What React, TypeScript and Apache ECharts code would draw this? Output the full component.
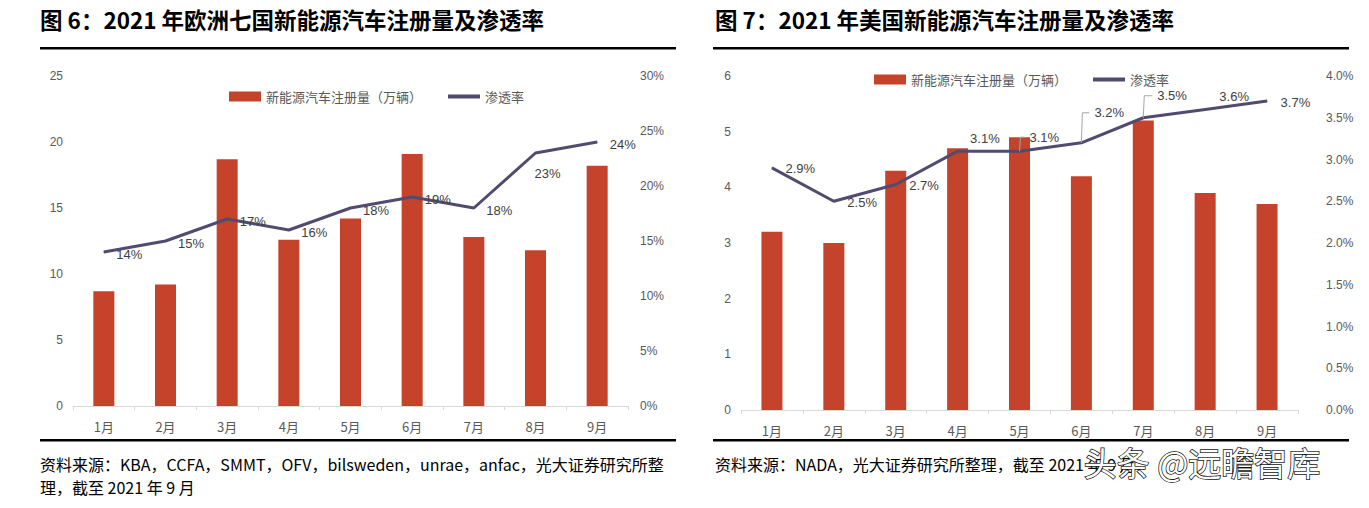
import React, { useEffect, useRef } from "react";
import * as echarts from "echarts";

const categories = ["1月", "2月", "3月", "4月", "5月", "6月", "7月", "8月", "9月"];
const euRegistrations = [8.7, 9.2, 18.7, 12.6, 14.2, 19.1, 12.8, 11.8, 18.2];
const euPenetration = [14, 15, 17, 16, 18, 19, 18, 23, 24];
const usRegistrations = [3.2, 3.0, 4.3, 4.7, 4.9, 4.2, 5.2, 3.9, 3.7];
const usPenetration = [2.9, 2.5, 2.7, 3.1, 3.1, 3.2, 3.5, 3.6, 3.7];

const barName = "新能源汽车注册量（万辆）";
const lineName = "渗透率";
const euTitle = "图 6：2021 年欧洲七国新能源汽车注册量及渗透率";
const usTitle = "图 7：2021 年美国新能源汽车注册量及渗透率";
const euSource1 = "资料来源：KBA，CCFA，SMMT，OFV，bilsweden，unrae，anfac，光大证券研究所整";
const euSource2 = "理，截至 2021 年 9 月";
const usSource = "资料来源：NADA，光大证券研究所整理，截至 2021 年 9 月";
const watermark = "头条 @远瞻智库";

const BAR = "#C5432A";
const LINE = "#514B6F";
const AXIS_TXT = "#595959";
const LABEL_TXT = "#404040";
const FONT = '"Liberation Sans", "Noto Sans CJK SC", sans-serif';
const CJK = '"Noto Sans CJK SC", sans-serif';

// label placement per point (style only)
const euLabelCfg = (i: number) =>
  i === 7
    ? { position: "bottom", offset: [12, 8] }
    : { position: "right", distance: 12, offset: [0, 2] };

const usLabelCfg = (i: number) => {
  if (i === 3) return { position: "right", distance: 12, offset: [0, -13] };
  if (i === 7) return { position: "top", distance: 6, offset: [29, 0] };
  return { position: "right", distance: 13, offset: [0, 1] };
};
// leader-line geometry for some points: [rise, run]
const usLeader: Record<number, [number, number]> = {
  4: [14, 5],
  5: [30, 8],
  6: [22, 9],
};

export default function App() {
  const ref = useRef<HTMLDivElement>(null);
  useEffect(() => {
    if (!ref.current) return;
    const chart = echarts.init(ref.current, null, { renderer: "svg" });

    const xAxisBase = (gridIndex: number) => ({
      type: "category",
      gridIndex,
      data: categories,
      boundaryGap: true,
      axisLine: { lineStyle: { color: "#D9D9D9", width: 1 } },
      axisTick: { show: true, length: 4, lineStyle: { color: "#D9D9D9" } },
      axisLabel: { color: AXIS_TXT, fontSize: 13, fontFamily: CJK, margin: 14 },
    });
    const yBase = {
      axisLine: { show: false },
      axisTick: { show: false },
      splitLine: { show: false },
    };

    const legendBase = {
      itemGap: 26,
      textStyle: { color: AXIS_TXT, fontSize: 13, fontFamily: CJK },
      itemWidth: 32,
      itemHeight: 10,
    };

    chart.setOption({
      animation: false,
      backgroundColor: "#fff",
      grid: [
        { left: 73, width: 555, top: 76, height: 330 },
        { left: 741, width: 557, top: 76, height: 334 },
      ],
      legend: [
        {
          ...legendBase,
          left: 224,
          top: 85,
          data: [
            { name: barName, icon: "rect" },
            { name: lineName, icon: "path://M0 0H32V4H0Z" },
          ],
        },
        {
          ...legendBase,
          left: 869,
          top: 68,
          data: [
            { name: barName + " ", icon: "rect" },
            { name: lineName + " ", icon: "path://M0 0H32V4H0Z" },
          ],
          formatter: (n: string) => n.trim(),
        },
      ],
      xAxis: [xAxisBase(0), xAxisBase(1)],
      yAxis: [
        {
          ...yBase,
          type: "value",
          gridIndex: 0,
          min: 0,
          max: 25,
          interval: 5,
          axisLabel: { color: AXIS_TXT, fontSize: 12, fontFamily: FONT, margin: 10 },
        },
        {
          ...yBase,
          type: "value",
          gridIndex: 0,
          position: "right",
          min: 0,
          max: 30,
          interval: 5,
          axisLabel: {
            color: AXIS_TXT,
            fontSize: 12,
            fontFamily: FONT,
            margin: 12,
            formatter: (v: number) => v + "%",
          },
        },
        {
          ...yBase,
          type: "value",
          gridIndex: 1,
          min: 0,
          max: 6,
          interval: 1,
          axisLabel: { color: AXIS_TXT, fontSize: 12, fontFamily: FONT, margin: 10 },
        },
        {
          ...yBase,
          type: "value",
          gridIndex: 1,
          position: "right",
          min: 0,
          max: 4,
          interval: 0.5,
          axisLabel: {
            color: AXIS_TXT,
            fontSize: 12,
            fontFamily: FONT,
            margin: 28,
            formatter: (v: number) => v.toFixed(1) + "%",
          },
        },
      ],
      series: [
        {
          name: barName,
          type: "bar",
          xAxisIndex: 0,
          yAxisIndex: 0,
          data: euRegistrations,
          barWidth: 21,
          itemStyle: { color: BAR },
        },
        {
          name: lineName,
          type: "line",
          xAxisIndex: 0,
          yAxisIndex: 1,
          data: euPenetration.map((v, i) => ({
            value: v,
            label: euLabelCfg(i),
          })),
          symbol: "circle",
          symbolSize: 1,
          showSymbol: true,
          lineStyle: { color: LINE, width: 3 },
          itemStyle: { color: LINE },
          label: {
            show: true,
            color: LABEL_TXT,
            fontSize: 13,
            fontFamily: FONT,
            formatter: (p: any) => p.value + "%",
          },
          z: 5,
        },
        {
          name: barName + " ",
          type: "bar",
          xAxisIndex: 1,
          yAxisIndex: 2,
          data: usRegistrations,
          barWidth: 21,
          itemStyle: { color: BAR },
        },
        {
          name: lineName + " ",
          type: "line",
          xAxisIndex: 1,
          yAxisIndex: 3,
          data: usPenetration.map((v, i) => ({
            value: v,
            label: usLeader[i] ? { show: false } : usLabelCfg(i),
          })),
          symbol: "circle",
          symbolSize: 1,
          showSymbol: true,
          lineStyle: { color: LINE, width: 3 },
          itemStyle: { color: LINE },
          label: {
            show: true,
            color: LABEL_TXT,
            fontSize: 13,
            fontFamily: FONT,
            formatter: (p: any) => p.value.toFixed(1) + "%",
          },
          z: 5,
        },
        {
          // leader-line labels for the US penetration series
          type: "custom",
          xAxisIndex: 1,
          yAxisIndex: 3,
          silent: true,
          z: 6,
          data: usPenetration.map((v, i) => [i, v]),
          renderItem: (params: any, api: any) => {
            const idx = params.dataIndex;
            const g = usLeader[idx];
            if (!g) return null;
            const v = api.value(1);
            const p = api.coord([api.value(0), v]);
            const [rise, run] = g;
            const top = p[1] - rise;
            return {
              type: "group",
              children: [
                {
                  type: "polyline",
                  shape: {
                    points: [
                      [p[0], p[1]],
                      [p[0] + 1, top],
                      [p[0] + run, top],
                    ],
                  },
                  style: { stroke: "#A6A6A6", lineWidth: 1, fill: "none" },
                },
                {
                  type: "text",
                  x: p[0] + run + 5,
                  y: top,
                  style: {
                    text: v.toFixed(1) + "%",
                    fill: LABEL_TXT,
                    font: `13px ${FONT}`,
                    verticalAlign: "middle",
                    align: "left",
                  },
                },
              ],
            };
          },
        },
      ],
      graphic: [
        {
          type: "text",
          left: 40,
          top: 8,
          style: { text: euTitle, font: `bold 22.5px ${CJK}`, fill: "#000" },
        },
        {
          type: "text",
          left: 715,
          top: 8,
          style: { text: usTitle, font: `bold 22.5px ${CJK}`, fill: "#000" },
        },
        { type: "rect", shape: { x: 40, y: 47, width: 636, height: 2.5 }, style: { fill: "#000" } },
        { type: "rect", shape: { x: 713, y: 47, width: 636, height: 2.5 }, style: { fill: "#000" } },
        { type: "rect", shape: { x: 40, y: 439, width: 636, height: 2.5 }, style: { fill: "#000" } },
        { type: "rect", shape: { x: 713, y: 439, width: 636, height: 2.5 }, style: { fill: "#000" } },
        {
          type: "text",
          left: 40,
          top: 456,
          style: { text: euSource1, font: `16px ${CJK}`, fill: "#000" },
        },
        {
          type: "text",
          left: 40,
          top: 479,
          style: { text: euSource2, font: `16px ${CJK}`, fill: "#000" },
        },
        {
          type: "text",
          left: 715,
          top: 456,
          style: { text: usSource, font: `16px ${CJK}`, fill: "#000" },
        },
        {
          type: "text",
          left: 1083,
          top: 445,
          style: {
            text: watermark,
            font: `33px ${CJK}`,
            fill: "#fff",
            stroke: "#111",
            lineWidth: 1.5,
          },
        },
      ],
    });
    return () => chart.dispose();
  }, []);
  return (
    <div
      ref={ref}
      style={{ position: "fixed", left: 0, top: 0, width: 1369, height: 508, background: "#fff" }}
    />
  );
}
